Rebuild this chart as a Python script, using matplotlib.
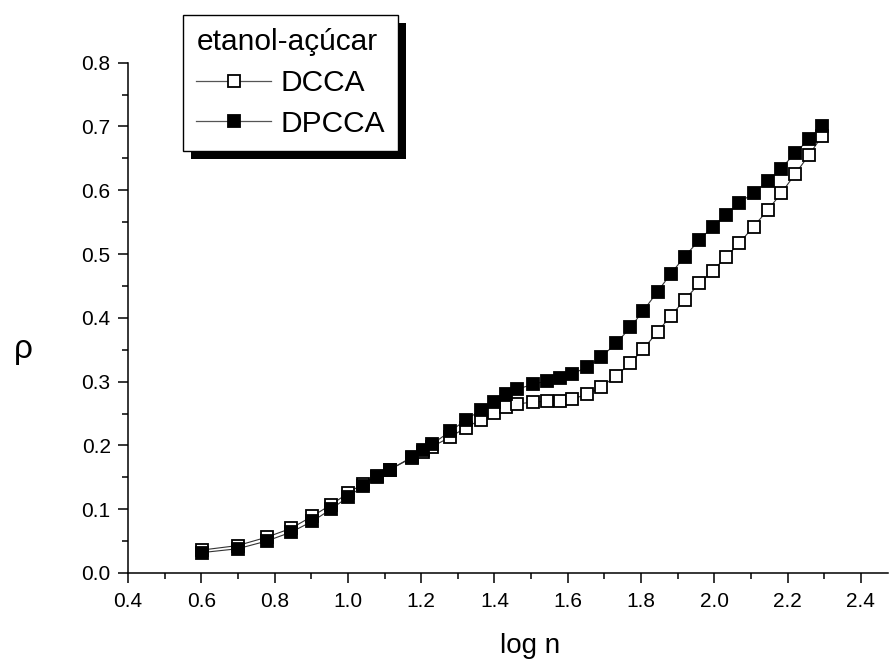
import matplotlib
matplotlib.use("Agg")
import matplotlib.pyplot as plt
import matplotlib.patheffects as pe

plt.rcParams["font.family"] = ["Liberation Sans", "DejaVu Sans"]

# log n values (n = 4 ... 197, roughly geometric spacing)
log_n = [0.602, 0.699, 0.778, 0.845, 0.903, 0.954, 1.000, 1.041, 1.079, 1.114,
         1.176, 1.204, 1.230, 1.279, 1.322, 1.362, 1.398, 1.431, 1.462, 1.505,
         1.544, 1.580, 1.613, 1.653, 1.690, 1.732, 1.771, 1.806, 1.845, 1.881,
         1.919, 1.959, 1.996, 2.033, 2.068, 2.107, 2.146, 2.182, 2.220, 2.258,
         2.294]

rho_dcca = [0.036, 0.043, 0.056, 0.070, 0.089, 0.107, 0.125, 0.140, 0.152, 0.162,
            0.181, 0.189, 0.198, 0.213, 0.228, 0.240, 0.251, 0.260, 0.265, 0.268,
            0.269, 0.270, 0.273, 0.280, 0.291, 0.309, 0.329, 0.351, 0.378, 0.403,
            0.428, 0.454, 0.474, 0.496, 0.517, 0.543, 0.569, 0.595, 0.625, 0.655,
            0.685]

rho_dpcca = [0.032, 0.038, 0.050, 0.064, 0.081, 0.100, 0.119, 0.136, 0.150, 0.162,
             0.182, 0.193, 0.202, 0.222, 0.240, 0.255, 0.268, 0.280, 0.288, 0.296,
             0.301, 0.306, 0.312, 0.323, 0.338, 0.360, 0.385, 0.411, 0.441, 0.469,
             0.496, 0.522, 0.543, 0.562, 0.580, 0.596, 0.614, 0.634, 0.658, 0.680,
             0.701]

W, H = 889, 659
Y0, Y1 = 573, 62.7   # pixel rows of y=0.0 and y=0.8
fig = plt.figure(figsize=(W / 100, H / 100), dpi=100)
ax = fig.add_axes([128 / W, 1 - Y0 / H, 760 / W, (Y0 - Y1) / H])

ax.plot(log_n, rho_dcca, color="#333333", lw=0.8, marker="s", ms=8.4,
        mfc="white", mec="black", mew=1.3, label="DCCA")
ax.plot(log_n, rho_dpcca, color="#333333", lw=0.8, marker="s", ms=8.4,
        mfc="black", mec="black", mew=1.3, label="DPCCA")

ax.set_xlim(0.4, 2.474)
ax.set_ylim(0.0, 0.8)
ax.set_xticks([0.4, 0.6, 0.8, 1.0, 1.2, 1.4, 1.6, 1.8, 2.0, 2.2, 2.4])
ax.set_xticks([0.5, 0.7, 0.9, 1.1, 1.3, 1.5, 1.7, 1.9, 2.1, 2.3], minor=True)
ax.set_yticks([0.0, 0.1, 0.2, 0.3, 0.4, 0.5, 0.6, 0.7, 0.8])
ax.set_yticks([0.05, 0.15, 0.25, 0.35, 0.45, 0.55, 0.65, 0.75], minor=True)
ax.xaxis.set_major_formatter(matplotlib.ticker.FormatStrFormatter("%.1f"))
ax.yaxis.set_major_formatter(matplotlib.ticker.FormatStrFormatter("%.1f"))

for s in ["top", "right"]:
    ax.spines[s].set_visible(False)
for s in ["left", "bottom"]:
    ax.spines[s].set_linewidth(1.1)
ax.tick_params(which="major", direction="out", length=7.5, width=1.1,
               labelsize=15, pad=5)
ax.tick_params(axis="x", which="major", pad=6.5)
ax.tick_params(which="minor", direction="out", length=4, width=1.1)

ax.set_xlabel("log n", fontsize=20, va="baseline")
ax.xaxis.set_label_coords((530 - 128) / 760, (Y0 - 652.7) / (Y0 - Y1))
ax.set_ylabel("ρ", fontsize=24, rotation=0, va="center", ha="center")
ax.yaxis.set_label_coords((23 - 128) / 760, (Y0 - 349) / (Y0 - Y1))

leg = ax.legend(title="etanol-açúcar", loc="upper left",
                bbox_to_anchor=(183 / W, 1 - 15 / H), bbox_transform=fig.transFigure,
                borderaxespad=0, fontsize=21.5, title_fontsize=21.5,
                fancybox=False, framealpha=1, edgecolor="black",
                handlelength=2.5, handletextpad=0.3, labelspacing=0.42,
                borderpad=0.45, numpoints=1, alignment="left")
leg.get_frame().set_linewidth(1.0)
leg.get_frame().set_path_effects([
    pe.SimplePatchShadow(offset=(6, -6), shadow_rgbFace="black", alpha=1.0),
    pe.Normal(),
])
for h in leg.legend_handles:
    h.set_color("#555555")
    h.set_linewidth(0.9)
    h.set_markeredgecolor("black")

fig.savefig("out.png", dpi=100)
